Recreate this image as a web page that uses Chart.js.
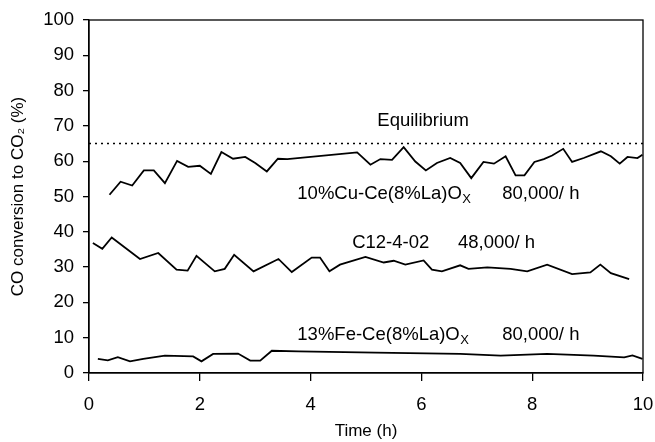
<!DOCTYPE html>
<html><head><meta charset="utf-8">
<script src="https://cdn.jsdelivr.net/npm/chart.js@4.4.1/dist/chart.umd.min.js"></script>
<style>html,body{margin:0;padding:0;background:#fff}#wrap{width:655px;height:442px}</style>
</head><body><div id="wrap"><canvas id="c" width="655" height="442"></canvas></div>
<script>
// ---- data ----
const cuTime = [0.37,0.57,0.78,0.99,1.17,1.37,1.59,1.79,2.0,2.2,2.39,2.6,2.82,3.0,3.21,3.41,3.58,4.84,5.08,5.26,5.47,5.68,5.89,6.08,6.28,6.52,6.7,6.9,7.12,7.31,7.52,7.7,7.86,8.04,8.21,8.36,8.56,8.72,8.93,9.24,9.42,9.58,9.72,9.9,9.99];
const cuConv = [50.5,54.2,53.1,57.4,57.4,53.8,60.1,58.4,58.7,56.4,62.6,60.7,61.2,59.5,57.1,60.7,60.6,62.5,59.0,60.6,60.4,64.0,59.9,57.4,59.5,60.9,59.5,55.2,59.8,59.3,61.4,56.0,56.0,59.8,60.6,61.6,63.5,59.8,60.9,62.8,61.4,59.3,61.2,60.9,61.8];

const c12Time = [0.07,0.24,0.41,0.92,1.25,1.58,1.78,1.94,2.27,2.45,2.62,2.97,3.42,3.66,4.02,4.17,4.34,4.53,4.99,5.32,5.5,5.71,6.04,6.19,6.37,6.7,6.85,7.19,7.61,7.91,8.27,8.72,9.05,9.23,9.42,9.75];
const c12Conv = [36.8,35.2,38.4,32.3,34.0,29.3,29.0,33.2,28.8,29.5,33.5,28.8,32.3,28.6,32.7,32.7,28.8,30.7,32.9,31.3,31.8,30.7,31.9,29.3,28.8,30.5,29.5,29.9,29.5,28.8,30.7,28.0,28.5,30.7,28.3,26.6];

const feTime = [0.16,0.34,0.52,0.74,0.98,1.37,1.88,2.03,2.24,2.69,2.91,3.09,3.3,3.78,5.17,6.7,7.43,8.27,9.11,9.66,9.81,9.99];
const feConv = [4.0,3.6,4.5,3.3,4.0,4.9,4.7,3.3,5.4,5.5,3.5,3.5,6.3,6.1,5.8,5.4,4.9,5.4,4.9,4.4,5.0,4.0];

const equilibriumTime = [0, 10];
const equilibriumConv = [65, 65];

const xTicks = [0,2,4,6,8,10];
const yTicks = [0,10,20,30,40,50,60,70,80,90,100];

// ---- helpers ----
const pts = (xs, ys) => xs.map((x, i) => ({x, y: ys[i]}));
const FONT = "'Liberation Sans', Arial, Helvetica, sans-serif";

const labels = [
  {text: 'Equilibrium', t: 6.03, v: 71.5, align: 'center'},
  {text: '10%Cu-Ce(8%La)O', sub: 'X', t: 3.76, v: 50.6, align: 'left'},
  {text: '80,000/ h', t: 7.46, v: 50.6, align: 'left'},
  {text: 'C12-4-02', t: 4.75, v: 36.8, align: 'left'},
  {text: '48,000/ h', t: 6.66, v: 36.8, align: 'left'},
  {text: '13%Fe-Ce(8%La)O', sub: 'X', t: 3.76, v: 10.7, align: 'left'},
  {text: '80,000/ h', t: 7.46, v: 10.7, align: 'left'}
];

const boxAndText = {
  id: 'boxAndText',
  afterDatasetsDraw(chart) {
    const {ctx, chartArea: a, scales: {x, y}} = chart;
    ctx.save();
    ctx.strokeStyle = '#000';
    ctx.lineWidth = 1.3;
    ctx.strokeRect(a.left, a.top, a.right - a.left, a.bottom - a.top);
    ctx.fillStyle = '#000';
    ctx.textBaseline = 'middle';
    for (const l of labels) {
      const px = x.getPixelForValue(l.t);
      const py = y.getPixelForValue(l.v);
      ctx.font = '18.5px ' + FONT;
      ctx.textAlign = l.align;
      ctx.fillText(l.text, px, py);
      if (l.sub) {
        const w = ctx.measureText(l.text).width;
        ctx.font = '13px ' + FONT;
        ctx.textAlign = 'left';
        ctx.fillText(l.sub, px + w + 0.5, py + 5);
      }
    }
    ctx.restore();
  }
};

const lineStyle = {borderColor: '#000', borderWidth: 1.8, pointRadius: 0, tension: 0, fill: false};

new Chart(document.getElementById('c'), {
  type: 'line',
  data: {
    datasets: [
      Object.assign({label: '10%Cu-Ce(8%La)Ox', data: pts(cuTime, cuConv)}, lineStyle),
      Object.assign({label: 'C12-4-02', data: pts(c12Time, c12Conv)}, lineStyle),
      Object.assign({label: '13%Fe-Ce(8%La)Ox', data: pts(feTime, feConv)}, lineStyle),
      Object.assign({label: 'Equilibrium', data: pts(equilibriumTime, equilibriumConv)}, lineStyle, {borderWidth: 1.5, borderDash: [2, 4]})
    ]
  },
  options: {
    responsive: false,
    animation: false,
    devicePixelRatio: 1,
    layout: {padding: {top: 20, right: 12, left: 0, bottom: 0}},
    plugins: {legend: {display: false}, tooltip: {enabled: false}},
    scales: {
      x: {
        type: 'linear', min: 0, max: 10,
        afterBuildTicks(s) { s.ticks = xTicks.map(v => ({value: v})); },
        afterFit(s) { s.height = 69; s.paddingLeft = 0; s.paddingRight = 0; },
        ticks: {color: '#000', font: {family: FONT, size: 18.5}, padding: 13, maxRotation: 0},
        grid: {drawOnChartArea: false, drawTicks: true, tickLength: 8, color: '#000', lineWidth: 1.3},
        border: {display: true, color: '#000', width: 1.3},
        title: {display: true, text: 'Time (h)', color: '#000', font: {family: FONT, size: 17}, padding: {top: 1, bottom: 0}}
      },
      y: {
        type: 'linear', min: 0, max: 100,
        afterBuildTicks(s) { s.ticks = yTicks.map(v => ({value: v})); },
        afterFit(s) { s.width = 89; s.paddingTop = 0; s.paddingBottom = 0; },
        ticks: {color: '#000', font: {family: FONT, size: 18.5}, padding: 9},
        grid: {drawOnChartArea: false, drawTicks: true, tickLength: 6, color: '#000', lineWidth: 1.3},
        border: {display: true, color: '#000', width: 1.3},
        title: {display: true, text: 'CO conversion to CO\u2082 (%)', color: '#000', font: {family: FONT, size: 17}, padding: {top: 8, bottom: 0}}
      }
    }
  },
  plugins: [boxAndText]
});
</script>
</body></html>
